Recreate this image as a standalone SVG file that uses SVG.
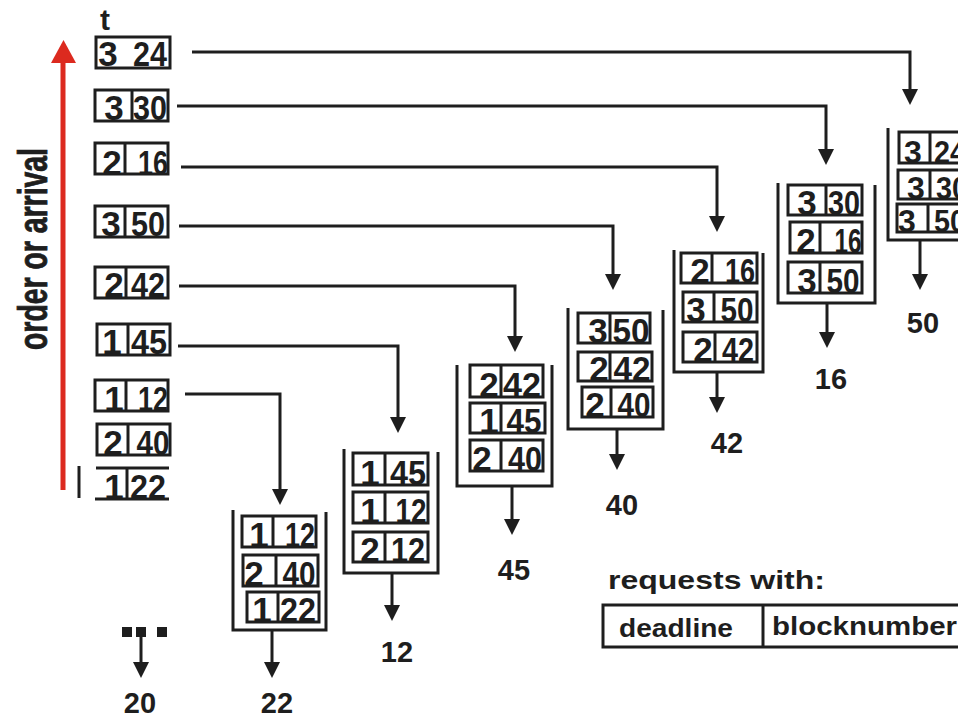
<svg xmlns="http://www.w3.org/2000/svg" width="958" height="718" viewBox="0 0 958 718">
<defs>
<style>
.b{fill:none;stroke:#1e1e1e;stroke-width:3}
.c{fill:none;stroke:#1e1e1e;stroke-width:3;marker-end:url(#ah)}
.n{font-family:"Liberation Sans",Arial,sans-serif;font-weight:bold;font-size:35px;fill:#1e1e1e;text-anchor:middle}
.s{font-size:32px}
.lb{font-family:"Liberation Sans",Arial,sans-serif;font-weight:bold;font-size:29px;fill:#1e1e1e;text-anchor:middle}
.lg{font-family:"Liberation Sans",Arial,sans-serif;font-weight:bold;font-size:25px;fill:#1e1e1e}
</style>
<marker id="ah" viewBox="0 0 16 16" markerWidth="16" markerHeight="16" refX="10" refY="8" orient="auto" markerUnits="userSpaceOnUse">
<path d="M0,0 L16,8 L0,16 z" fill="#1e1e1e"/>
</marker>
</defs>
<rect width="958" height="718" fill="#ffffff"/>

<g id="order-arrow">
<line x1="63" y1="490" x2="63" y2="60" stroke="#dc2a1f" stroke-width="5"/>
<polygon points="51,63 76,63 63.5,40" fill="#dc2a1f"/>
<text class="lg" style="font-size:40px;stroke:#1e1e1e;stroke-width:0.8" transform="translate(47,350) rotate(-90)" textLength="202" lengthAdjust="spacingAndGlyphs">order or arrival</text>
</g>

<g id="t-label"><text class="lb" x="105" y="30" style="font-size:30px">t</text></g>

<!-- left column of requests -->
<g id="req-3-24"><rect class="b" x="96" y="37" width="74" height="31"/><text class="n" x="108" y="66">3</text><text class="n" x="150" y="66" textLength="34" lengthAdjust="spacingAndGlyphs">24</text></g>
<g id="req-3-30"><rect class="b" x="95" y="90" width="73" height="31"/><line class="b" x1="132" y1="90" x2="132" y2="121"/><text class="n" x="114" y="120">3</text><text class="n" x="150" y="120" textLength="34" lengthAdjust="spacingAndGlyphs">30</text></g>
<g id="req-2-16"><rect class="b" x="95" y="143" width="73" height="31"/><line class="b" x1="125" y1="143" x2="125" y2="174"/><text class="n" x="112" y="175">2</text><text class="n" x="153" y="175" textLength="30" lengthAdjust="spacingAndGlyphs">16</text></g>
<g id="req-3-50"><rect class="b" x="95" y="206" width="73" height="31"/><line class="b" x1="125" y1="206" x2="125" y2="237"/><text class="n" x="111" y="236">3</text><text class="n" x="148" y="236" textLength="34" lengthAdjust="spacingAndGlyphs">50</text></g>
<g id="req-2-42"><rect class="b" x="95" y="267" width="73" height="31"/><line class="b" x1="126" y1="267" x2="126" y2="298"/><text class="n" x="114" y="297">2</text><text class="n" x="148" y="297" textLength="34" lengthAdjust="spacingAndGlyphs">42</text></g>
<g id="req-1-45"><rect class="b" x="97" y="324" width="73" height="31"/><line class="b" x1="128" y1="324" x2="128" y2="355"/><text class="n" x="112" y="354">1</text><text class="n" x="149" y="354" textLength="36" lengthAdjust="spacingAndGlyphs">45</text></g>
<g id="req-1-12"><rect class="b" x="95" y="380" width="73" height="31"/><line class="b" x1="126" y1="380" x2="126" y2="411"/><text class="n" x="114" y="411">1</text><text class="n" x="153" y="411" textLength="30" lengthAdjust="spacingAndGlyphs">12</text></g>
<g id="req-2-40"><rect class="b" x="97" y="424" width="73" height="31"/><line class="b" x1="128" y1="424" x2="128" y2="455"/><text class="n" x="113" y="455">2</text><text class="n" x="153" y="455" textLength="33" lengthAdjust="spacingAndGlyphs">40</text></g>
<g id="req-1-22"><line class="b" x1="96" y1="468" x2="169" y2="468"/><line class="b" x1="95" y1="499" x2="169" y2="499"/><line class="b" x1="127" y1="468" x2="127" y2="499"/><line class="b" x1="79" y1="466" x2="79" y2="498"/><text class="n" x="114" y="499">1</text><text class="n" x="148" y="499" textLength="36" lengthAdjust="spacingAndGlyphs">22</text></g>

<!-- queue 22 -->
<g id="queue-22">
<path class="b" d="M233,510 V630 H326 V512"/>
<rect class="b" x="242" y="516" width="74" height="31"/><line class="b" x1="273" y1="516" x2="273" y2="547"/><text class="n" x="259" y="547">1</text><text class="n" x="300" y="547" textLength="30" lengthAdjust="spacingAndGlyphs">12</text>
<rect class="b" x="243" y="555" width="75" height="31"/><line class="b" x1="276" y1="555" x2="276" y2="586"/><text class="n" x="254" y="586">2</text><text class="n" x="299" y="586" textLength="33" lengthAdjust="spacingAndGlyphs">40</text>
<rect class="b" x="247" y="592" width="72" height="30"/><line class="b" x1="278" y1="592" x2="278" y2="622"/><text class="n" x="262" y="622">1</text><text class="n" x="298" y="622" textLength="36" lengthAdjust="spacingAndGlyphs">22</text>
<text class="lb" x="277" y="713">22</text>
</g>

<!-- dots 20 -->
<g id="queue-20">
<rect x="122" y="627" width="10" height="10" fill="#1e1e1e"/>
<rect x="136" y="627" width="10" height="10" fill="#1e1e1e"/>
<rect x="157" y="627" width="10" height="10" fill="#1e1e1e"/>
<text class="lb" x="140" y="713">20</text>
</g>

<!-- queue 12 -->
<g id="queue-12">
<path class="b" d="M344,449 V573 H438 V452"/>
<rect class="b" x="353" y="453" width="75" height="32"/><line class="b" x1="385" y1="453" x2="385" y2="485"/><text class="n" x="370" y="485">1</text><text class="n" x="408" y="485" textLength="36" lengthAdjust="spacingAndGlyphs">45</text>
<rect class="b" x="353" y="492" width="75" height="31"/><line class="b" x1="385" y1="492" x2="385" y2="523"/><text class="n" x="370" y="523">1</text><text class="n" x="411" y="523" textLength="31" lengthAdjust="spacingAndGlyphs">12</text>
<rect class="b" x="353" y="532" width="75" height="30"/><line class="b" x1="385" y1="532" x2="385" y2="562"/><text class="n" x="370" y="562">2</text><text class="n" x="408" y="562" textLength="34" lengthAdjust="spacingAndGlyphs">12</text>
<text class="lb" x="397" y="662">12</text>
</g>

<!-- queue 45 -->
<g id="queue-45">
<path class="b" d="M457,365 V486 H552 V365"/>
<rect class="b" x="470" y="365" width="73" height="32"/><line class="b" x1="501" y1="365" x2="501" y2="397"/><text class="n" x="489" y="397">2</text><text class="n" x="522" y="397" textLength="38" lengthAdjust="spacingAndGlyphs">42</text>
<rect class="b" x="470" y="403" width="75" height="30"/><line class="b" x1="501" y1="403" x2="501" y2="433"/><text class="n" x="489" y="433">1</text><text class="n" x="524" y="433" textLength="35" lengthAdjust="spacingAndGlyphs">45</text>
<rect class="b" x="470" y="440" width="73" height="31"/><line class="b" x1="501" y1="440" x2="501" y2="471"/><text class="n" x="482" y="471">2</text><text class="n" x="525" y="471" textLength="34" lengthAdjust="spacingAndGlyphs">40</text>
<text class="lb" x="514" y="580">45</text>
</g>

<!-- queue 40 -->
<g id="queue-40">
<path class="b" d="M568,308 V429 H663 V310"/>
<rect class="b" x="578" y="313" width="72" height="30"/><line class="b" x1="610" y1="313" x2="610" y2="343"/><text class="n" x="598" y="343">3</text><text class="n" x="631" y="343" textLength="37" lengthAdjust="spacingAndGlyphs">50</text>
<rect class="b" x="578" y="352" width="74" height="29"/><line class="b" x1="610" y1="352" x2="610" y2="381"/><text class="n" x="599" y="381">2</text><text class="n" x="632" y="381" textLength="37" lengthAdjust="spacingAndGlyphs">42</text>
<rect class="b" x="582" y="387" width="71" height="30"/><line class="b" x1="611" y1="387" x2="611" y2="417"/><text class="n" x="595" y="417">2</text><text class="n" x="634" y="417" textLength="33" lengthAdjust="spacingAndGlyphs">40</text>
<text class="lb" x="622" y="515">40</text>
</g>

<!-- queue 42 -->
<g id="queue-42">
<path class="b" d="M674,250 V372 H763 V253"/>
<rect class="b" x="681" y="253" width="76" height="30"/><line class="b" x1="712" y1="253" x2="712" y2="283"/><text class="n" x="700" y="283">2</text><text class="n" x="740" y="283" textLength="30" lengthAdjust="spacingAndGlyphs">16</text>
<rect class="b" x="683" y="292" width="74" height="30"/><line class="b" x1="714" y1="292" x2="714" y2="322"/><text class="n" x="696" y="322">3</text><text class="n" x="737" y="322" textLength="33" lengthAdjust="spacingAndGlyphs">50</text>
<rect class="b" x="683" y="332" width="74" height="30"/><line class="b" x1="715" y1="332" x2="715" y2="362"/><text class="n" x="703" y="362">2</text><text class="n" x="738" y="362" textLength="32" lengthAdjust="spacingAndGlyphs">42</text>
<text class="lb" x="727" y="453">42</text>
</g>

<!-- queue 16 -->
<g id="queue-16">
<path class="b" d="M778,183 V303 H875 V185"/>
<rect class="b" x="788" y="185" width="74" height="30"/><line class="b" x1="826" y1="185" x2="826" y2="215"/><text class="n" x="807" y="215">3</text><text class="n" x="844" y="215" textLength="32" lengthAdjust="spacingAndGlyphs">30</text>
<rect class="b" x="790" y="222" width="72" height="31"/><line class="b" x1="820" y1="222" x2="820" y2="253"/><text class="n" x="806" y="253">2</text><text class="n" x="848" y="253" textLength="27" lengthAdjust="spacingAndGlyphs">16</text>
<rect class="b" x="788" y="262" width="74" height="31"/><line class="b" x1="820" y1="262" x2="820" y2="293"/><text class="n" x="807" y="293">3</text><text class="n" x="843" y="293" textLength="33" lengthAdjust="spacingAndGlyphs">50</text>
<text class="lb" x="831" y="389">16</text>
</g>

<!-- queue 50 -->
<g id="queue-50">
<path class="b" d="M888,128 V240 H965"/>
<rect class="b" x="899" y="132" width="70" height="31"/><line class="b" x1="930" y1="132" x2="930" y2="163"/><text class="n s" x="913" y="163">3</text><text class="n s" x="950" y="163" textLength="32" lengthAdjust="spacingAndGlyphs">24</text>
<rect class="b" x="898" y="170" width="70" height="29"/><line class="b" x1="930" y1="170" x2="930" y2="199"/><text class="n s" x="916" y="199">3</text><text class="n s" x="952" y="199" textLength="32" lengthAdjust="spacingAndGlyphs">30</text>
<rect class="b" x="897" y="204" width="70" height="28"/><line class="b" x1="928" y1="204" x2="928" y2="232"/><text class="n s" x="907" y="232">3</text><text class="n s" x="950" y="232" textLength="32" lengthAdjust="spacingAndGlyphs">50</text>
<text class="lb" x="923" y="333">50</text>
</g>

<!-- legend -->
<g id="legend">
<text class="lg" x="608" y="589" textLength="217" lengthAdjust="spacingAndGlyphs">requests with:</text>
<rect class="b" x="603" y="605" width="362" height="42"/>
<line class="b" x1="763" y1="605" x2="763" y2="647"/>
<text class="lg" x="619" y="637" textLength="114" lengthAdjust="spacingAndGlyphs">deadline</text>
<text class="lg" x="772" y="635" textLength="185" lengthAdjust="spacingAndGlyphs">blocknumber</text>
</g>

<g id="connectors">
<path class="c" d="M192,52 H910 V99"/>
<path class="c" d="M177,106 H826 V159"/>
<path class="c" d="M181,167 H717 V226"/>
<path class="c" d="M179,226 H613 V284"/>
<path class="c" d="M179,286 H515 V346"/>
<path class="c" d="M178,346 H398 V427"/>
<path class="c" d="M185,394 H280 V499"/>
<path class="c" d="M141,636 V672"/>
<path class="c" d="M272,630 V672"/>
<path class="c" d="M392,573 V615"/>
<path class="c" d="M512,486 V529"/>
<path class="c" d="M617,429 V464"/>
<path class="c" d="M717,372 V407"/>
<path class="c" d="M827,303 V342"/>
<path class="c" d="M920,240 V284"/>
</g>
</svg>
